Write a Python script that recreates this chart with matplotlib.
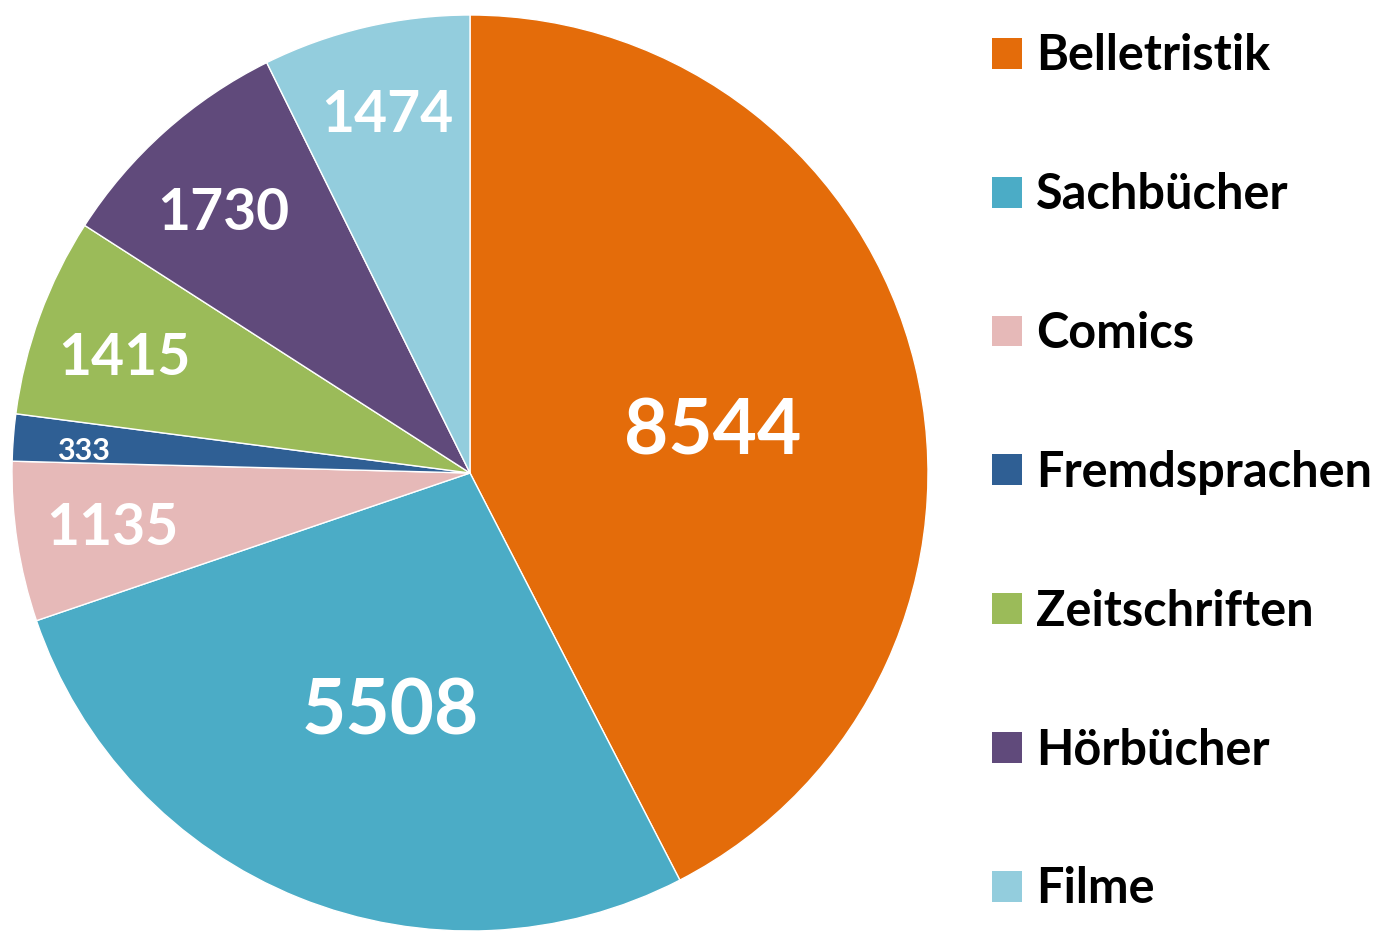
import numpy as np
import matplotlib
matplotlib.use("Agg")
from matplotlib import pyplot as plt
from matplotlib.patches import Patch

# data
categories = ["Belletristik", "Sachbücher", "Comics", "Fremdsprachen",
              "Zeitschriften", "Hörbücher", "Filme"]
values = [8544, 5508, 1135, 333, 1415, 1730, 1474]
colors = ["#E46C0A", "#4BACC6", "#E6B9B8", "#2F5F94", "#9BBB59", "#604A7B", "#93CDDD"]

# label placement (radius fraction, angle in degrees) and size
label_sizes = [55, 55, 41, 22, 41, 41, 41]
label_r = [0.541, 0.536, 0.789, 0.845, 0.798, 0.79, 0.813]
label_ang = [11.2, -109.0, -172.0, 176.3, 160.8, 132.9, 102.9]

plt.rcParams['font.family'] = ['Lato', 'DejaVu Sans']

fig = plt.figure(figsize=(13.82, 9.31), dpi=100)
ax = fig.add_axes([12/1382, 0/931, 916/1382, 916/931])

wedges, _ = ax.pie(values, colors=colors, startangle=90, counterclock=False,
                   radius=1, wedgeprops=dict(edgecolor='white', linewidth=1))

for v, fs, r, a in zip(values, label_sizes, label_r, label_ang):
    a = np.deg2rad(a)
    # small shift so digits sit visually centred
    ax.text(r*np.cos(a), r*np.sin(a) - 0.13*fs/458, str(v), ha='center', va='center',
            color='white', fontsize=fs, fontweight='bold')

ax.set_xlim(-1, 1)
ax.set_ylim(-1, 1)
ax.set_aspect('equal')
ax.axis('off')

handles = [Patch(facecolor=c, edgecolor='none') for c in colors]
fig.legend(handles, categories, loc='upper left', bbox_to_anchor=(973/1382, 1 - 14/931),
           frameon=False, prop=dict(size=35, weight='bold'),
           handlelength=0.6, handleheight=0.6, handletextpad=0.3,
           labelspacing=1.93, borderaxespad=0)

fig.savefig("out.png", dpi=100, facecolor='white')
